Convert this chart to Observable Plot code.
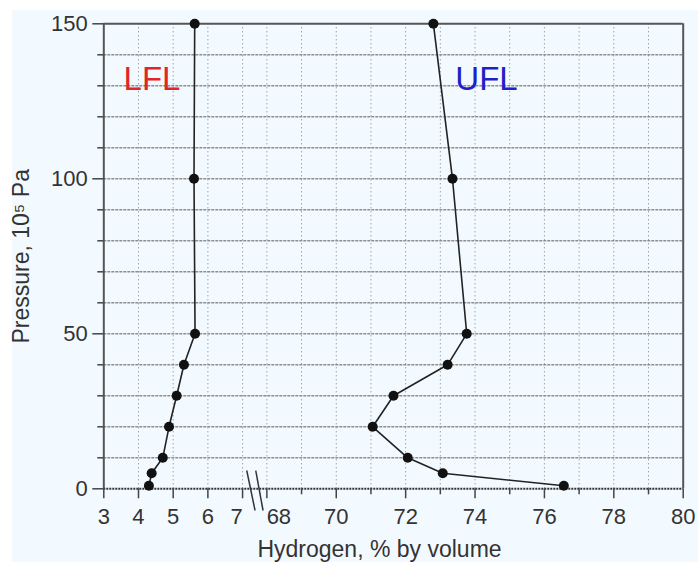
<!DOCTYPE html>
<html>
<head>
<meta charset="utf-8">
<script src="https://cdn.jsdelivr.net/npm/d3@7"></script>
<script src="https://cdn.jsdelivr.net/npm/@observablehq/plot@0.6"></script>
<style>
  html, body { margin: 0; padding: 0; background: #ffffff; }
  #chart { position: absolute; left: 12px; top: 10px; width: 686px; height: 552px; background: #f3faff; }
  #chart svg { display: block; }
</style>
</head>
<body>
<div id="chart"></div>
<script>
// Flammability limits of hydrogen in air versus pressure
const pressure = [1, 5, 10, 20, 30, 40, 50, 100, 150];          // 10^5 Pa
const lflValues = [4.30, 4.38, 4.70, 4.88, 5.10, 5.31, 5.63, 5.60, 5.62]; // % H2
const uflValues = [76.56, 73.07, 72.06, 71.05, 71.65, 73.21, 73.76, 73.35, 72.80];

const seriesNames = ["LFL", "UFL"];
const xTickLabels = [3, 4, 5, 6, 7, 68, 70, 72, 74, 76, 78, 80];
const xMinorTicks = [69, 71, 73, 75, 77, 79];
const xGridValues = [4, 5, 6, 7, 68, 69, 70, 71, 72, 73, 74, 75, 76, 77, 78, 79];
const yTickLabels = [0, 50, 100, 150];
const yMinorTicks = [10, 20, 30, 40, 60, 70, 80, 90, 110, 120, 130, 140];
const yGridValues = [10, 20, 30, 40, 50, 60, 70, 80, 90, 100, 110, 120, 130, 140];

// Broken x axis: 3–7 % and 68–80 % share one unit width, with a small gap between them
const GAP = 0.7;
const toU = v => (v <= 7.5 ? v - 3 : v - 68 + 4 + GAP);
const U_MAX = toU(80);
const BREAK_U = (toU(7) + toU(68)) / 2;

const lfl = pressure.map((p, i) => ({p, x: lflValues[i]}));
const ufl = pressure.map((p, i) => ({p, x: uflValues[i]}));

const axisColor = "#444";
const textColor = "#333";

const chart = Plot.plot({
  width: 686,
  height: 552,
  marginLeft: 91.3,
  marginRight: 15.3,
  marginTop: 13.3,
  marginBottom: 73.7,
  x: {domain: [0, U_MAX]},
  y: {domain: [0, 150]},
  style: {
    fontFamily: "'Liberation Sans', Arial, sans-serif",
    background: "transparent",
    overflow: "visible",
    color: textColor
  },
  marks: [
    // grid
    Plot.ruleX(xGridValues, {x: d => toU(d), stroke: "#7a7a7a", strokeWidth: 1, strokeDasharray: "1,3"}),
    Plot.ruleY(yGridValues, {stroke: "#8e8e8e", strokeWidth: 1.6, strokeDasharray: "3,1"}),

    // frame
    Plot.ruleX([0, U_MAX], {stroke: "#555", strokeWidth: 2}),
    Plot.ruleY([150], {stroke: "#555", strokeWidth: 2}),
    Plot.ruleY([0], {stroke: "#333", strokeWidth: 2, strokeDasharray: "2,1"}),

    // y axis ticks and labels
    Plot.axisY({ticks: yTickLabels, tickSize: 11, tickPadding: 5, fontSize: 22, stroke: axisColor, strokeWidth: 1.5, fill: textColor, label: null}),
    Plot.axisY({ticks: yMinorTicks, tickSize: 6, tickFormat: () => "", stroke: axisColor, strokeWidth: 1.5, label: null}),

    // x axis ticks
    Plot.axisX({ticks: xTickLabels.map(toU), tickSize: 10, tickFormat: () => "", stroke: axisColor, strokeWidth: 1.5, label: null}),
    Plot.axisX({ticks: xMinorTicks.map(toU), tickSize: 6, tickFormat: () => "", stroke: axisColor, strokeWidth: 1.5, label: null}),

    // x tick labels (the two beside the break are nudged apart)
    Plot.text(xTickLabels.filter(v => v !== 7 && v !== 68), {x: d => toU(d), y: () => 0, text: d => String(d), dy: 28, fontSize: 22, fill: textColor}),
    Plot.text([7], {x: d => toU(d), y: () => 0, text: d => String(d), dy: 28, dx: -6, fontSize: 22, fill: textColor}),
    Plot.text([68], {x: d => toU(d), y: () => 0, text: d => String(d), dy: 28, dx: 12, fontSize: 22, fill: textColor}),

    // axis break marks
    Plot.link([0, 1], {
      x1: i => BREAK_U - 0.23 + i * 0.26,
      x2: i => BREAK_U + 0.01 + i * 0.23,
      y1: () => 5.9,
      y2: () => -7,
      stroke: "#333",
      strokeWidth: 1.5
    }),

    // axis titles
    Plot.text(["Pressure, 10\u2075 Pa"], {frameAnchor: "left", textAnchor: "middle", lineAnchor: "middle", rotate: -90, dx: -82, fontSize: 23, fill: textColor, letterSpacing: "1px"}),
    Plot.text(["Hydrogen, % by volume"], {frameAnchor: "bottom", textAnchor: "middle", lineAnchor: "middle", dx: -14, dy: 61, fontSize: 23, fill: textColor}),

    // LFL and UFL curves
    Plot.line(lfl, {x: d => toU(d.x), y: "p", stroke: "#222", strokeWidth: 1.6}),
    Plot.line(ufl, {x: d => toU(d.x), y: "p", stroke: "#222", strokeWidth: 1.6}),
    Plot.dot(lfl, {x: d => toU(d.x), y: "p", r: 5, fill: "#111"}),
    Plot.dot(ufl, {x: d => toU(d.x), y: "p", r: 5, fill: "#111"}),

    // series names
    Plot.text([seriesNames[0]], {x: () => toU(4.39), y: () => 132, fontSize: 33, fill: "#e0252a"}),
    Plot.text([seriesNames[1]], {x: () => toU(74.33), y: () => 132, fontSize: 33, fill: "#1d22c8"})
  ]
});

document.getElementById("chart").appendChild(chart);
</script>
</body>
</html>
